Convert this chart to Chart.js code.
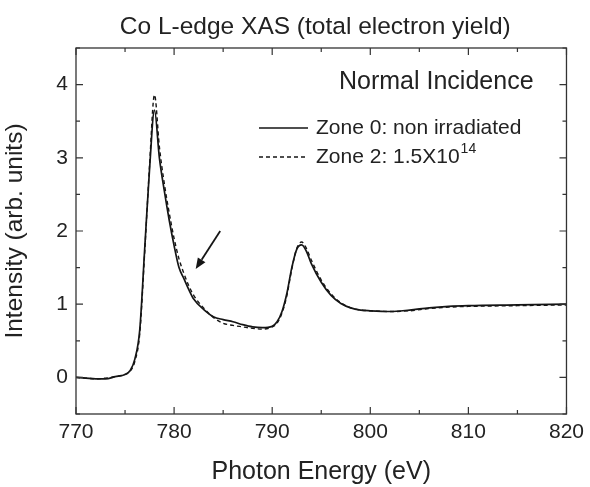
<!DOCTYPE html>
<html><head><meta charset="utf-8">
<script src="https://cdn.jsdelivr.net/npm/chart.js@4/dist/chart.umd.min.js"></script>
<style>html,body{margin:0;padding:0;background:#fff}</style>
</head><body>
<canvas id="c" width="590" height="487"></canvas>
<script>
const energies = [770,771,772,773,774,775,775.5,776,776.5,777,777.5,778,778.5,779,779.5,780,780.5,781,781.5,782,783,784,785,786,787,788,789,790,790.5,791,791.5,792,792.5,793,793.5,794,795,796,797,798,799,800,802,804,806,808,810,815,820];
const zone0 = [0.00,-0.01,-0.02,-0.02,0.01,0.04,0.09,0.25,0.65,1.75,2.85,3.65,3.00,2.55,2.15,1.80,1.50,1.35,1.20,1.07,0.93,0.83,0.79,0.76,0.72,0.69,0.68,0.70,0.76,0.90,1.15,1.50,1.75,1.81,1.72,1.55,1.30,1.12,1.01,0.95,0.92,0.91,0.90,0.92,0.95,0.97,0.98,0.99,1.00];
const zone2 = [0.00,-0.01,-0.02,-0.01,0.01,0.04,0.08,0.22,0.60,1.70,2.90,3.86,3.15,2.65,2.25,1.90,1.62,1.42,1.25,1.12,0.95,0.82,0.74,0.71,0.69,0.67,0.66,0.69,0.74,0.88,1.12,1.48,1.76,1.85,1.76,1.60,1.33,1.14,1.02,0.95,0.92,0.91,0.90,0.91,0.94,0.96,0.97,0.98,0.99];
const seriesNames = ['Zone 0: non irradiated', 'Zone 2: 1.5X10'];
const seriesSuperscripts = ['', '14'];
const titleText = 'Co L-edge XAS (total electron yield)';
const annotationText = 'Normal Incidence';
const xAxisTitle = 'Photon Energy (eV)';
const yAxisTitle = 'Intensity (arb. units)';
const arrowFrom = [784.7, 2.0];
const arrowTo = [782.2, 1.48];

const FONT = '"Liberation Sans", Arial, Helvetica, sans-serif';
const TXT = '#222';
const INK = '#151515';

function pts(vals){ return energies.map((e,i)=>({x:e,y:vals[i]})); }

const decor = {
  id:'decor',
  afterDraw(chart){
    const {ctx, chartArea:ca, scales:{x,y}} = chart;
    ctx.save();
    // frame
    ctx.strokeStyle = '#333'; ctx.lineWidth = 1.3;
    ctx.strokeRect(ca.left, ca.top, ca.right-ca.left, ca.bottom-ca.top);
    // inward ticks
    ctx.lineWidth = 1.2;
    x.ticks.forEach(t=>{
      const px = x.getPixelForValue(t.value);
      const L = (Math.round(t.value) % 10 === 0) ? 7 : 4;
      ctx.beginPath(); ctx.moveTo(px, ca.bottom); ctx.lineTo(px, ca.bottom-L);
      ctx.moveTo(px, ca.top); ctx.lineTo(px, ca.top+L); ctx.stroke();
    });
    y.ticks.forEach(t=>{
      const py = y.getPixelForValue(t.value);
      const L = Number.isInteger(t.value) ? 7 : 4;
      ctx.beginPath(); ctx.moveTo(ca.left, py); ctx.lineTo(ca.left+L, py);
      ctx.moveTo(ca.right, py); ctx.lineTo(ca.right-L, py); ctx.stroke();
    });
    // title
    ctx.fillStyle = TXT;
    ctx.font = '24.5px ' + FONT;
    ctx.textAlign = 'center'; ctx.textBaseline = 'middle';
    ctx.fillText(titleText, (ca.left+ca.right)/2 - 6, 27);
    // Normal incidence
    ctx.textAlign = 'left';
    ctx.font = '25px ' + FONT;
    ctx.fillText(annotationText, 339, 82);
    // legend
    const ds = chart.data.datasets;
    const rows = [128, 157];
    ds.forEach((d,i)=>{
      ctx.strokeStyle = d.borderColor; ctx.lineWidth = d.borderWidth;
      ctx.setLineDash(d.borderDash || []);
      ctx.beginPath(); ctx.moveTo(259, rows[i]); ctx.lineTo(308, rows[i]); ctx.stroke();
      ctx.setLineDash([]);
      ctx.font = '21px ' + FONT;
      ctx.fillStyle = TXT;
      ctx.fillText(seriesNames[i], 316, rows[i]);
      if (seriesSuperscripts[i]) {
        const w = ctx.measureText(seriesNames[i]).width;
        ctx.font = '14px ' + FONT;
        ctx.fillText(seriesSuperscripts[i], 316 + w + 1, rows[i] - 8);
      }
    });
    // arrow
    const x1 = x.getPixelForValue(arrowFrom[0]), y1 = y.getPixelForValue(arrowFrom[1]);
    const x2 = x.getPixelForValue(arrowTo[0]), y2 = y.getPixelForValue(arrowTo[1]);
    const ang = Math.atan2(y2-y1, x2-x1);
    const hl = 11, hw = 4.5;
    const bx = x2 - hl*Math.cos(ang), by = y2 - hl*Math.sin(ang);
    ctx.strokeStyle = INK; ctx.lineWidth = 1.8;
    ctx.beginPath(); ctx.moveTo(x1,y1); ctx.lineTo(bx,by); ctx.stroke();
    ctx.fillStyle = INK;
    ctx.beginPath(); ctx.moveTo(x2,y2);
    ctx.lineTo(bx + hw*Math.sin(ang), by - hw*Math.cos(ang));
    ctx.lineTo(bx - hw*Math.sin(ang), by + hw*Math.cos(ang));
    ctx.closePath(); ctx.fill();
    ctx.restore();
  }
};

new Chart(document.getElementById('c'), {
  type:'line',
  data:{ datasets:[
    {label:seriesNames[0], data:pts(zone0), borderColor:INK, borderWidth:1.7, pointRadius:0, fill:false, cubicInterpolationMode:'monotone'},
    {label:seriesNames[1]+seriesSuperscripts[1], data:pts(zone2), borderColor:INK, borderWidth:1.4, borderDash:[4,3], pointRadius:0, fill:false, cubicInterpolationMode:'monotone'}
  ]},
  options:{
    responsive:false, animation:false,
    layout:{padding:{top:48, right:19.5, left:0, bottom:0}},
    plugins:{legend:{display:false}, title:{display:false}, tooltip:{enabled:false}},
    scales:{
      x:{type:'linear', min:770, max:820,
        ticks:{stepSize:5, color:TXT, font:{family:FONT, size:21}, padding:6, maxRotation:0, autoSkip:false,
          callback:v=> (Math.round(v)%10===0 ? String(v) : '')},
        grid:{display:false, drawTicks:false}, border:{display:false},
        title:{display:true, text:xAxisTitle, color:TXT, font:{family:FONT, size:25}, padding:{top:0,bottom:0}},
        afterFit(s){ s.height = 73; }
      },
      y:{type:'linear', min:-0.5, max:4.5,
        ticks:{stepSize:0.5, color:TXT, font:{family:FONT, size:21}, padding:8, autoSkip:false,
          callback:v=> (Number.isInteger(v) ? String(v) : '')},
        grid:{display:false, drawTicks:false}, border:{display:false},
        title:{display:true, text:yAxisTitle, color:TXT, font:{family:FONT, size:24.5}, padding:{top:1,bottom:0}},
        afterFit(s){ s.width = 76; }
      }
    }
  },
  plugins:[decor]
});
</script>
</body></html>
